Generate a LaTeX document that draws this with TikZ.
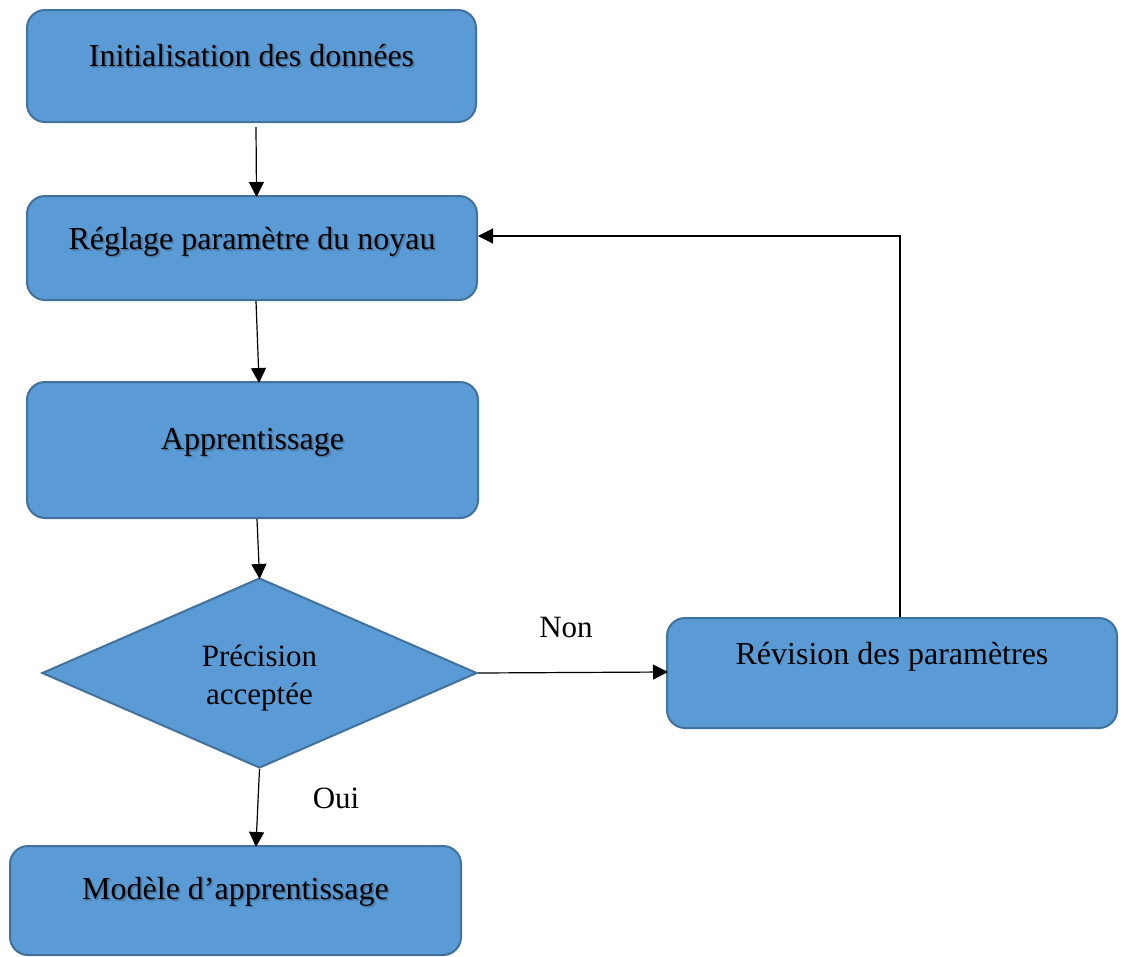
\documentclass[tikz,border=0pt]{standalone}
\usepackage{fontspec}
\setmainfont{Liberation Serif}
\usetikzlibrary{arrows.meta,shapes.geometric}
\definecolor{boxfill}{HTML}{5B9BD5}
\definecolor{boxline}{HTML}{41719C}
\colorlet{halo}{boxfill!78!black}
% caption with a soft drop shadow set in the same box
\newcommand{\shadowcap}[1]{%
  \rlap{\hspace{2pt}\raisebox{-2pt}{\textcolor{halo!70!boxfill}{#1}}}%
  \rlap{\hspace{1pt}\raisebox{-1pt}{\textcolor{halo}{#1}}}%
  #1}
\tikzset{
  stepbox/.style={draw=boxline, fill=boxfill, line width=2pt, rounded corners=18pt, inner sep=0pt},
  txt/.style={anchor=base, font=\fontsize{32}{36}\selectfont, inner sep=0pt},
  lbl/.style={anchor=base, font=\fontsize{31}{34}\selectfont, inner sep=0pt},
  arr/.style={draw=black, line width=1.2pt, -{Triangle[length=15pt,width=15pt]}, shorten >=-2pt},
}
\begin{document}
\begin{tikzpicture}[x=1pt, y=-1pt]
  \useasboundingbox (0,0) rectangle (1126,956);
  \clip (0,0) rectangle (1126,956);

  % process boxes
  \node[stepbox, minimum width=449pt, minimum height=112pt] (b1) at (251.5,66) {};
  \node[stepbox, minimum width=450pt, minimum height=104pt] (b2) at (252,248) {};
  \node[stepbox, minimum width=451pt, minimum height=136pt] (b3) at (252.5,450) {};
  \node[stepbox, minimum width=450pt, minimum height=110pt] (b4) at (892,673) {};
  \node[stepbox, minimum width=451pt, minimum height=109pt] (b5) at (235.5,900.5) {};

  % decision
  \node[diamond, aspect=2.29, draw=boxline, fill=boxfill, line width=2pt,
        minimum width=435pt, minimum height=190pt, inner sep=0pt] (d) at (259.5,673) {};

  % captions
  \node[txt] (t1) at (251.5,66) {\shadowcap{Initialisation des données}};
  \node[txt] (t2) at (252,249) {\shadowcap{Réglage paramètre du noyau}};
  \node[txt] (t3) at (252.5,449) {\shadowcap{Apprentissage}};
  \node[txt] (t4) at (892,664) {Révision des paramètres};
  \node[txt] (t5) at (235.5,899) {\shadowcap{Modèle d’apprentissage}};
  \node[txt, font=\fontsize{31}{34}\selectfont] (td1) at (259.5,666) {Précision};
  \node[txt, font=\fontsize{31}{34}\selectfont] (td2) at (259.5,704) {acceptée};

  % branch labels
  \node[lbl] (non) at (566,637) {Non};
  \node[lbl] (oui) at (336,808) {Oui};

  % connectors
  \draw[arr] ([xshift=4.5pt,yshift=-4pt]b1.south) -- ([xshift=4.5pt]b2.north);
  \draw[arr] ([xshift=4pt]b2.south) -- ([xshift=6.5pt]b3.north);
  \draw[arr] ([xshift=4.5pt]b3.south) -- (d.north);
  \draw[arr] (d.south) -- ([xshift=20.5pt]b5.north);
  \draw[arr] (d.east) -- ([yshift=1pt]b4.west);
  \draw[arr] ([xshift=8pt]b4.north) |- ([xshift=2pt,yshift=12pt]b2.east);
\end{tikzpicture}
\end{document}
